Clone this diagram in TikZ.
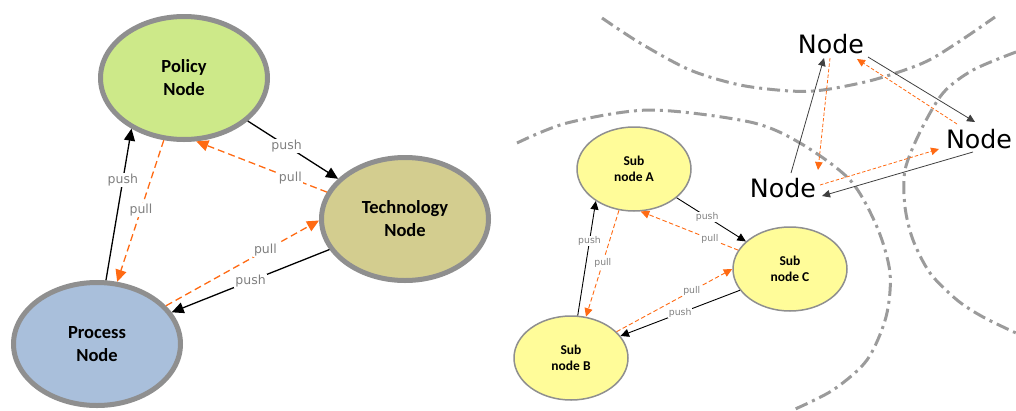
\documentclass[tikz,border=0pt]{standalone}
\usepackage{fontspec}
\setmainfont{Carlito}
\newfontfamily\labelfont{DejaVu Sans}
\usetikzlibrary{arrows.meta,calc,shapes.geometric}

\definecolor{ringgray}{RGB}{143,143,143}
\definecolor{zonegray}{RGB}{155,155,155}
\definecolor{labelgray}{RGB}{128,128,128}
\definecolor{pullorange}{RGB}{255,106,19}
\definecolor{linkdark}{RGB}{64,64,64}
\definecolor{policyfill}{RGB}{205,233,137}
\definecolor{techfill}{RGB}{211,205,143}
\definecolor{processfill}{RGB}{169,191,219}
\definecolor{subfill}{RGB}{255,252,153}

\tikzset{
  bignode/.style={ellipse, draw=ringgray, line width=5pt, minimum width=167pt,
    minimum height=123pt, inner sep=0pt, align=center,
    font=\fontsize{18.5}{23}\selectfont\bfseries},
  subnode/.style={ellipse, draw=ringgray, line width=1.5pt, fill=subfill,
    minimum width=114pt, minimum height=84pt, inner sep=0pt, align=center,
    font=\fontsize{13.5}{16.5}\selectfont\bfseries},
  bigtxt/.style={inner sep=0pt, font=\labelfont\fontsize{25.3}{30}\selectfont},
  pushbig/.style={draw=black, line width=1.3pt, -{Triangle[length=12pt,width=11pt]}},
  pullbig/.style={draw=pullorange, line width=1.3pt, dash pattern=on 7pt off 4pt,
    -{Triangle[length=12pt,width=11pt]}},
  pushsub/.style={draw=black, line width=0.9pt, -{Triangle[length=8.5pt,width=8pt]}},
  pullsub/.style={draw=pullorange, line width=0.9pt, dash pattern=on 4.5pt off 2.5pt,
    -{Triangle[length=8.5pt,width=8pt]}},
  pushtiny/.style={draw=linkdark, line width=0.8pt, -{Triangle[length=8pt,width=7.5pt]}},
  pulltiny/.style={draw=pullorange, line width=0.8pt, dash pattern=on 3.5pt off 2pt,
    -{Triangle[length=8pt,width=7.5pt]}},
  lblbig/.style={font=\labelfont\fontsize{12.5}{14}\selectfont, text=labelgray,
    fill=white, inner sep=1pt},
  lblsub/.style={font=\labelfont\fontsize{9.3}{11}\selectfont, text=labelgray,
    fill=white, inner sep=0.6pt},
  zone/.style={draw=zonegray, line width=3pt,
    dash pattern=on 13pt off 5pt on 3pt off 5pt}
}

\begin{document}
\begin{tikzpicture}[x=1pt,y=-1pt]
\useasboundingbox (0,0) rectangle (1016,410);

% domain boundaries (dash-dot)
\draw[zone] plot[smooth] coordinates {(602,18) (640,43) (690,70) (740,85) (790,91)
  (823,90) (873,80) (923,63) (957,43) (995,17)};
\draw[zone] plot[smooth] coordinates {(517,143) (567,123) (650,110) (750,122)
  (800,143) (850,180) (877,227) (890,273) (886,317) (867,360) (833,390) (793,410)};
\draw[zone] plot[smooth] coordinates {(1016,52) (973,70) (943,93) (920,132)
  (905,170) (905,207) (913,240) (930,273) (957,300) (983,317) (1016,333)};

% left: top-level nodes
\node[bignode, fill=policyfill]  (pol) at (184,78)  {Policy\\Node};
\node[bignode, fill=techfill]    (tec) at (405,219) {Technology\\Node};
\node[bignode, fill=processfill] (pro) at (97,344)  {Process\\Node};

\draw[pushbig] (pol.-34)  -- node[lblbig,pos=.43]{push} (tec.149);
\draw[pullbig] (tec.161)  -- node[lblbig,pos=.28]{pull} (pol.-79);
\draw[pushbig] (pro.82)   -- node[lblbig,pos=.66]{push} (pol.-136);
\draw[pullbig] (pol.-108) -- node[lblbig,pos=.49]{pull} (pro.72);
\draw[pullbig] (pro.29)   -- node[lblbig,pos=.65]{pull} (tec.-179);
\draw[pushbig] (tec.-158) -- node[lblbig,pos=.5]{push}  (pro.23);

% right: sub nodes
\node[subnode] (sa) at (634,169) {Sub\\node A};
\node[subnode] (sc) at (790,269) {Sub\\node C};
\node[subnode] (sb) at (571,358) {Sub\\node B};

\draw[pushsub] (sa.-34)  -- node[lblsub,pos=.44]{push} (sc.148);
\draw[pullsub] (sc.160)  -- node[lblsub,pos=.29]{pull} (sa.-81);
\draw[pushsub] (sb.81)   -- node[lblsub,pos=.65]{push} (sa.-140);
\draw[pullsub] (sa.-110) -- node[lblsub,pos=.49]{pull} (sb.70);
\draw[pullsub] (sb.30)   -- node[lblsub,pos=.65]{pull} (sc.180);
\draw[pushsub] (sc.-157) -- node[lblsub,pos=.5]{push}  (sb.24);

% right: peer nodes
\node[bigtxt, anchor=base] (n1) at (831,53)  {Node};
\node[bigtxt, anchor=base] (n2) at (979,148) {Node};
\node[bigtxt, anchor=base] (n3) at (783,197) {Node};

\draw[pushtiny] ($(n3.base)+(8,-24)$)  -- ($(n1.base)+(-7,5)$);
\draw[pulltiny] ($(n1.base)+(-1,5)$)   -- ($(n3.base)+(35,-27)$);
\draw[pushtiny] ($(n1.base)+(37,4)$)   -- ($(n2.base)+(-4,-26)$);
\draw[pulltiny] ($(n2.base)+(-22,-24)$) -- ($(n1.base)+(26,6)$);
\draw[pulltiny] ($(n3.base)+(37,-12)$) -- ($(n2.base)+(-40,1)$);
\draw[pushtiny] ($(n2.base)+(-6,4)$)   -- ($(n3.base)+(39,-1)$);
\end{tikzpicture}
\end{document}
